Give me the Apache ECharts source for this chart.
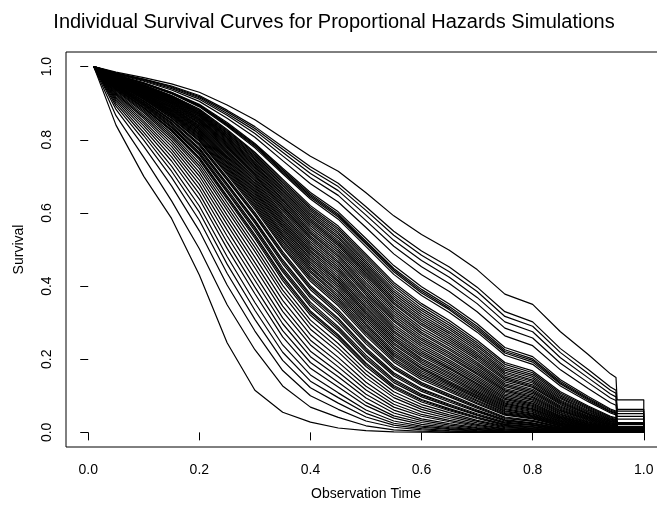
<!DOCTYPE html>
<html><head><meta charset="utf-8">
<script src="https://cdn.jsdelivr.net/npm/echarts@6/dist/echarts.min.js"></script>
<style>html,body{margin:0;padding:0;background:#fff}#chart{width:657px;height:510px}</style>
</head><body><div id="chart"></div>
<script>
const timePoints = [0.01, 0.05, 0.1, 0.15, 0.2, 0.25, 0.3, 0.35, 0.4, 0.45, 0.5, 0.55, 0.6, 0.65, 0.7, 0.75, 0.8, 0.85, 0.9, 0.94, 0.95, 0.952, 1.0, 1.0];
const xTickValues = [0, 0.2, 0.4, 0.6, 0.8, 1.0];
const yTickValues = [0, 0.2, 0.4, 0.6, 0.8, 1.0];

const curve01 = [1, .985, .970, .953, .930, .895, .855, .805, .755, .714, .655, .592, .541, .498, .445, .378, .350, .275, .213, .160, .150, .089, .089, 0];
const curve02 = [1, .983, .966, .947, .921, .881, .836, .781, .726, .681, .617, .550, .496, .452, .397, .330, .302, .229, .172, .124, .115, .063, .063, 0];
const curve03 = [1, .982, .965, .945, .918, .877, .831, .774, .718, .672, .607, .539, .484, .439, .385, .317, .290, .218, .161, .115, .107, .058, .058, 0];
const curve04 = [1, .981, .964, .943, .915, .872, .825, .766, .708, .661, .594, .525, .470, .424, .369, .302, .275, .204, .149, .105, .097, .051, .051, 0];
const curve05 = [1, .981, .962, .940, .911, .867, .817, .756, .696, .648, .579, .509, .453, .407, .352, .285, .258, .189, .136, .094, .087, .044, .044, 0];
const curve06 = [1, .979, .960, .936, .905, .859, .807, .743, .680, .630, .560, .488, .431, .385, .330, .264, .237, .171, .120, .081, .074, .036, .036, 0];
const curve07 = [1, .977, .956, .930, .897, .847, .790, .722, .656, .603, .530, .456, .398, .351, .297, .232, .207, .144, .098, .064, .058, .027, .027, 0];
const curve08 = [1, .977, .955, .929, .895, .844, .787, .718, .651, .597, .523, .448, .391, .344, .290, .226, .201, .139, .094, .061, .055, .025, .025, 0];
const curve09 = [1, .977, .955, .928, .894, .842, .784, .714, .647, .593, .519, .444, .386, .339, .285, .221, .197, .135, .091, .058, .053, .024, .024, 0];
const curve10 = [1, .976, .954, .927, .892, .840, .782, .711, .643, .589, .515, .439, .381, .335, .280, .217, .192, .132, .088, .056, .051, .022, .022, 0];
const curve11 = [1, .976, .953, .926, .890, .837, .778, .707, .638, .583, .508, .432, .374, .328, .274, .211, .186, .127, .084, .053, .048, .021, .021, 0];
const curve12 = [1, .974, .950, .921, .884, .828, .766, .692, .620, .564, .487, .410, .352, .306, .252, .191, .168, .111, .072, .044, .040, .016, .016, 0];
const curve13 = [1, .974, .949, .919, .880, .823, .759, .683, .610, .553, .475, .398, .339, .293, .240, .180, .158, .103, .066, .040, .035, .014, .014, 0];
const curve14 = [1, .973, .947, .916, .876, .817, .752, .674, .600, .542, .463, .385, .327, .281, .229, .170, .148, .095, .060, .036, .032, .012, .012, 0];
const curve15 = [1, .972, .945, .914, .872, .812, .745, .665, .590, .531, .451, .373, .315, .270, .218, .161, .139, .088, .055, .032, .028, .011, .011, 0];
const curve16 = [1, .971, .943, .911, .869, .806, .738, .657, .580, .520, .440, .362, .304, .259, .208, .151, .130, .082, .050, .029, .025, .009, .009, 0];
const curve17 = [1, .970, .942, .908, .865, .801, .731, .648, .570, .510, .429, .351, .293, .248, .198, .143, .123, .076, .045, .026, .022, .008, .008, 0];
const curve18 = [1, .969, .940, .905, .860, .795, .723, .638, .559, .498, .417, .338, .280, .236, .187, .133, .114, .069, .041, .023, .020, .007, .007, 0];
const curve19 = [1, .968, .938, .902, .856, .789, .715, .629, .548, .486, .404, .326, .269, .225, .177, .125, .106, .063, .037, .020, .017, .006, .006, 0];
const curve20 = [1, .967, .936, .899, .852, .783, .707, .619, .537, .475, .393, .314, .257, .214, .167, .116, .098, .058, .033, .017, .015, .005, .005, 0];
const curve21 = [1, .966, .934, .896, .847, .777, .700, .610, .527, .464, .381, .303, .246, .204, .158, .109, .091, .053, .029, .015, .013, .004, .004, 0];
const curve22 = [1, .965, .932, .893, .843, .770, .691, .599, .515, .452, .368, .290, .235, .193, .148, .101, .084, .048, .026, .013, .011, .003, .003, 0];
const curve23 = [1, .963, .929, .889, .838, .763, .682, .589, .504, .440, .356, .278, .223, .182, .139, .093, .077, .043, .023, .011, .010, .003, .003, 0];
const curve24 = [1, .962, .927, .886, .833, .756, .674, .579, .493, .428, .344, .267, .213, .173, .130, .086, .071, .039, .020, .010, .008, .002, .002, 0];
const curve25 = [1, .961, .925, .882, .828, .750, .665, .569, .482, .416, .333, .256, .202, .163, .122, .080, .065, .035, .018, .009, .007, .002, .002, 0];
const curve26 = [1, .960, .923, .879, .823, .743, .657, .559, .471, .405, .322, .245, .193, .154, .114, .074, .060, .031, .016, .007, .006, .002, .002, 0];
const curve27 = [1, .959, .920, .875, .818, .736, .648, .548, .459, .393, .310, .234, .182, .145, .106, .068, .055, .028, .014, .006, .005, .001, .001, 0];
const curve28 = [1, .957, .918, .871, .813, .728, .639, .538, .448, .382, .298, .223, .173, .136, .099, .062, .050, .025, .012, .005, .004, .001, .001, 0];
const curve29 = [1, .956, .915, .868, .807, .721, .630, .527, .437, .370, .287, .213, .163, .128, .092, .057, .045, .022, .010, .004, .004, .001, .001, 0];
const curve30 = [1, .955, .912, .864, .801, .713, .620, .516, .424, .358, .275, .202, .154, .119, .085, .051, .041, .019, .009, .004, .003, .001, .001, 0];
const curve31 = [1, .953, .910, .859, .796, .705, .610, .505, .413, .346, .264, .192, .144, .111, .078, .047, .037, .017, .008, .003, .003, 0, 0, 0];
const curve32 = [1, .952, .907, .855, .790, .697, .601, .494, .401, .335, .253, .182, .136, .104, .072, .042, .033, .015, .007, .003, .002, 0, 0, 0];
const curve33 = [1, .950, .904, .851, .784, .690, .592, .484, .390, .323, .242, .173, .128, .097, .066, .038, .030, .013, .006, .002, .002, 0, 0, 0];
const curve34 = [1, .949, .901, .847, .778, .681, .581, .472, .378, .312, .231, .163, .119, .090, .061, .035, .026, .011, .005, .002, .001, 0, 0, 0];
const curve35 = [1, .947, .898, .842, .772, .673, .572, .461, .367, .300, .221, .154, .112, .083, .056, .031, .024, .010, .004, .001, .001, 0, 0, 0];
const curve36 = [1, .946, .896, .838, .766, .665, .562, .450, .356, .289, .211, .145, .104, .077, .051, .028, .021, .009, .003, .001, .001, 0, 0, 0];
const curve37 = [1, .944, .892, .833, .759, .656, .551, .439, .344, .278, .200, .136, .097, .071, .046, .025, .019, .007, .003, .001, .001, 0, 0, 0];
const curve38 = [1, .942, .889, .828, .752, .647, .541, .427, .332, .267, .190, .128, .090, .065, .042, .022, .016, .006, .002, .001, .001, 0, 0, 0];
const curve39 = [1, .940, .886, .823, .745, .638, .530, .415, .320, .256, .180, .120, .083, .059, .038, .019, .014, .005, .002, .001, 0, 0, 0, 0];
const curve40 = [1, .938, .882, .817, .737, .628, .518, .402, .307, .243, .169, .111, .076, .054, .033, .017, .012, .004, .002, 0, 0, 0, 0, 0];
const curve41 = [1, .936, .878, .811, .729, .617, .506, .389, .295, .231, .159, .102, .069, .048, .030, .015, .010, .004, .001, 0, 0, 0, 0, 0];
const curve42 = [1, .934, .874, .805, .721, .607, .494, .377, .282, .220, .149, .095, .063, .043, .026, .013, .009, .003, .001, 0, 0, 0, 0, 0];
const curve43 = [1, .931, .868, .798, .711, .594, .479, .361, .267, .205, .137, .085, .056, .038, .022, .010, .007, .002, .001, 0, 0, 0, 0, 0];
const curve44 = [1, .928, .863, .790, .701, .581, .464, .345, .252, .192, .126, .077, .049, .033, .019, .009, .006, .002, 0, 0, 0, 0, 0, 0];
const curve45 = [1, .925, .858, .782, .690, .568, .450, .331, .239, .179, .116, .069, .044, .029, .016, .007, .005, .001, 0, 0, 0, 0, 0, 0];
const curve46 = [1, .922, .851, .773, .678, .553, .432, .313, .222, .165, .104, .061, .037, .024, .013, .006, .004, .001, 0, 0, 0, 0, 0, 0];
const curve47 = [1, .918, .845, .764, .666, .537, .416, .297, .207, .152, .094, .053, .032, .020, .011, .004, .003, .001, 0, 0, 0, 0, 0, 0];
const curve48 = [1, .914, .838, .753, .652, .520, .397, .278, .191, .137, .082, .045, .027, .016, .008, .003, .002, 0, 0, 0, 0, 0, 0, 0];
const curve49 = [1, .910, .830, .742, .638, .503, .379, .261, .175, .124, .073, .039, .022, .013, .007, .002, .001, 0, 0, 0, 0, 0, 0, 0];
const curve50 = [1, .905, .820, .728, .619, .481, .355, .239, .157, .108, .061, .031, .017, .010, .005, .002, .001, 0, 0, 0, 0, 0, 0, 0];
const curve51 = [1, .899, .811, .714, .602, .460, .334, .219, .140, .095, .052, .025, .014, .008, .003, .001, 0, 0, 0, 0, 0, 0, 0, 0];
const curve52 = [1, .892, .799, .697, .580, .435, .309, .197, .122, .080, .042, .020, .010, .005, .002, .001, 0, 0, 0, 0, 0, 0, 0, 0];
const curve53 = [1, .883, .782, .674, .551, .403, .277, .169, .100, .063, .031, .014, .007, .003, .001, 0, 0, 0, 0, 0, 0, 0, 0, 0];
const curve54 = [1, .866, .752, .633, .502, .349, .226, .127, .069, .041, .018, .007, .003, .001, 0, 0, 0, 0, 0, 0, 0, 0, 0, 0];
const curve55 = [1, .840, .700, .585, .430, .245, .115, .055, .028, .012, .005, .0015, .0005, 0, 0, 0, 0, 0, 0, 0, 0, 0, 0, 0];
const curve56 = [1, .974, .949, .920, .882, .825, .763, .687, .615, .558, .481, .404, .346, .299, .246, .186, .163, .107, .069, .042, .038, .015, .015, 0];
const curve57 = [1, .973, .948, .917, .878, .820, .755, .678, .605, .547, .469, .391, .333, .287, .235, .175, .153, .099, .063, .038, .034, .013, .013, 0];
const curve58 = [1, .972, .946, .915, .874, .814, .748, .669, .595, .536, .457, .379, .321, .275, .224, .165, .143, .092, .057, .034, .030, .011, .011, 0];
const curve59 = [1, .971, .944, .912, .871, .809, .741, .661, .585, .525, .446, .367, .309, .264, .213, .156, .135, .085, .052, .030, .027, .010, .010, 0];
const curve60 = [1, .971, .943, .910, .867, .804, .734, .652, .575, .515, .435, .356, .298, .253, .203, .147, .126, .079, .048, .027, .024, .009, .009, 0];
const curve61 = [1, .970, .941, .907, .863, .798, .727, .643, .565, .504, .423, .344, .286, .242, .192, .138, .118, .072, .043, .024, .021, .007, .007, 0];
const curve62 = [1, .969, .939, .904, .858, .792, .719, .634, .553, .492, .410, .332, .274, .230, .182, .129, .110, .066, .039, .021, .018, .006, .006, 0];
const curve63 = [1, .967, .937, .901, .854, .786, .711, .624, .543, .481, .398, .320, .263, .219, .172, .120, .102, .060, .035, .019, .016, .005, .005, 0];
const curve64 = [1, .966, .935, .898, .850, .780, .703, .615, .532, .469, .387, .308, .252, .209, .162, .113, .095, .055, .031, .016, .014, .004, .004, 0];
const curve65 = [1, .965, .933, .894, .845, .773, .695, .605, .521, .458, .375, .296, .240, .198, .153, .105, .088, .050, .028, .014, .012, .004, .004, 0];
const curve66 = [1, .964, .931, .891, .840, .766, .687, .594, .509, .446, .362, .284, .229, .188, .143, .097, .080, .045, .024, .012, .011, .003, .003, 0];
const curve67 = [1, .963, .928, .888, .835, .760, .678, .584, .498, .434, .350, .273, .218, .177, .134, .090, .074, .041, .022, .011, .009, .002, .002, 0];
const curve68 = [1, .962, .926, .884, .830, .753, .670, .574, .487, .422, .339, .261, .208, .168, .126, .083, .068, .037, .019, .009, .008, .002, .002, 0];
const curve69 = [1, .961, .924, .881, .826, .746, .661, .564, .476, .411, .327, .251, .198, .159, .118, .077, .063, .033, .017, .008, .007, .002, .002, 0];
const curve70 = [1, .959, .921, .877, .821, .739, .653, .554, .465, .399, .316, .240, .188, .150, .110, .071, .057, .030, .015, .007, .006, .001, .001, 0];
const curve71 = [1, .958, .919, .873, .815, .732, .643, .543, .453, .387, .304, .229, .177, .140, .102, .065, .052, .026, .013, .006, .005, .001, .001, 0];
const curve72 = [1, .957, .917, .870, .810, .725, .634, .533, .442, .376, .293, .218, .168, .132, .095, .059, .047, .024, .011, .005, .004, .001, .001, 0];
const curve73 = [1, .955, .914, .866, .804, .717, .625, .522, .430, .364, .281, .208, .158, .124, .088, .054, .043, .021, .010, .004, .003, .001, .001, 0];
const curve74 = [1, .954, .911, .861, .798, .709, .615, .510, .419, .352, .270, .197, .149, .115, .081, .049, .039, .018, .008, .003, .003, .001, .001, 0];
const curve75 = [1, .951, .906, .853, .787, .693, .596, .489, .396, .329, .248, .177, .132, .100, .069, .040, .031, .014, .006, .002, .002, 0, 0, 0];
const curve76 = [1, .948, .900, .845, .775, .678, .577, .467, .373, .307, .226, .159, .116, .087, .058, .033, .025, .011, .004, .002, .001, 0, 0, 0];
const curve77 = [1, .945, .894, .835, .762, .660, .557, .444, .350, .284, .205, .141, .101, .074, .048, .026, .020, .008, .003, .001, .001, 0, 0, 0];
const curve78 = [1, .941, .887, .826, .749, .643, .536, .422, .327, .262, .186, .124, .087, .062, .040, .021, .015, .006, .002, .001, 0, 0, 0, 0];

const curves = [curve01, curve02, curve03, curve04, curve05, curve06, curve07, curve08, curve09, curve10,
  curve11, curve12, curve13, curve14, curve15, curve16, curve17, curve18, curve19, curve20,
  curve21, curve22, curve23, curve24, curve25, curve26, curve27, curve28, curve29, curve30,
  curve31, curve32, curve33, curve34, curve35, curve36, curve37, curve38, curve39, curve40,
  curve41, curve42, curve43, curve44, curve45, curve46, curve47, curve48, curve49, curve50,
  curve51, curve52, curve53, curve54, curve55, curve56, curve57, curve58, curve59, curve60,
  curve61, curve62, curve63, curve64, curve65, curve66, curve67, curve68, curve69, curve70,
  curve71, curve72, curve73, curve74, curve75, curve76, curve77, curve78];

const FONT = '"Liberation Sans", Arial, Helvetica, sans-serif';
const chart = echarts.init(document.getElementById('chart'), null, {renderer: 'canvas'});
const series = curves.map((vals, k) => ({
  type: 'line',
  name: 'curve ' + (k + 1),
  data: timePoints.map((t, i) => [t, vals[i]]),
  symbol: 'none',
  showSymbol: false,
  silent: true,
  clip: true,
  lineStyle: {color: '#000', width: 1.2}
}));

chart.setOption({
  animation: false,
  backgroundColor: '#fff',
  title: {
    text: 'Individual Survival Curves for Proportional Hazards Simulations',
    left: 329, top: 7, textAlign: 'center',
    textStyle: {fontFamily: FONT, fontSize: 20, fontWeight: 'normal', color: '#000'}
  },
  grid: {left: 66, top: 52, width: 600, height: 395, show: true, borderColor: '#000', borderWidth: 1,
    outerBoundsMode: 'none', containLabel: false},
  xAxis: {
    type: 'value', min: -0.04, max: 1.04,
    axisLine: {show: false}, splitLine: {show: false},
    axisTick: {show: true, length: 8, customValues: xTickValues, lineStyle: {color: '#000', width: 1}},
    axisLabel: {customValues: xTickValues, formatter: v => v.toFixed(1), margin: 16, fontSize: 14, color: '#000', fontFamily: FONT},
    name: 'Observation Time', nameLocation: 'middle', nameGap: 40,
    nameTextStyle: {fontFamily: FONT, fontSize: 14, color: '#000'}
  },
  yAxis: {
    type: 'value', min: -0.04, max: 1.04,
    axisLine: {show: false}, splitLine: {show: false},
    axisTick: {show: true, length: 8, customValues: yTickValues, lineStyle: {color: '#000', width: 1}},
    axisLabel: {customValues: yTickValues, formatter: v => v.toFixed(1), rotate: 90, margin: 12, fontSize: 14, color: '#000', fontFamily: FONT},
    name: 'Survival', nameLocation: 'middle', nameGap: 40,
    nameTextStyle: {fontFamily: FONT, fontSize: 14, color: '#000'}
  },
  series: series
});
</script></body></html>
